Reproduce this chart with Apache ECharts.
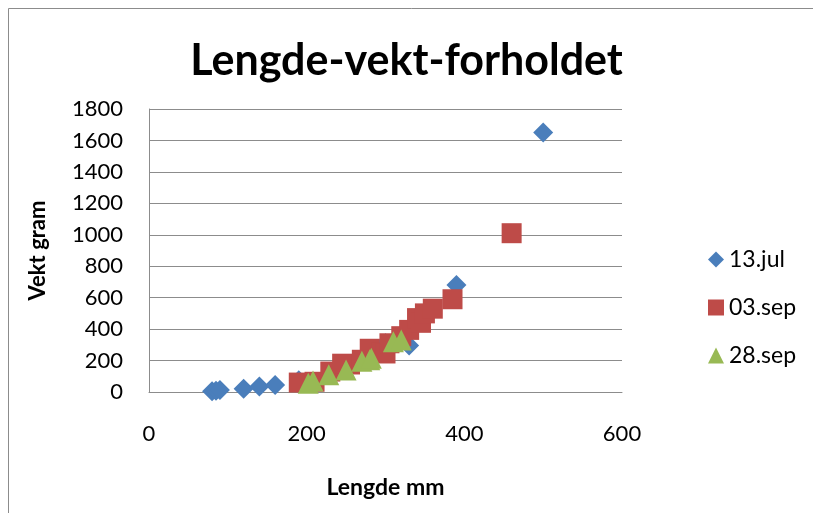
<!DOCTYPE html>
<html>
<head>
<meta charset="utf-8">
<script src="https://cdn.jsdelivr.net/npm/echarts@6/dist/echarts.min.js"></script>
<style>html,body{margin:0;padding:0;background:#fff;}#c{width:813px;height:513px;}</style>
</head>
<body>
<div id="c"></div>
<script>
const titleText = "Lengde-vekt-forholdet";
const xName = "Lengde mm";
const yName = "Vekt gram";
const seriesNames = ["13.jul", "03.sep", "28.sep"];
const jul13 = [[80,5],[85,8],[90,12],[120,20],[140,35],[160,45],[190,75],[300,310],[330,295],[390,680],[500,1650]];
const sep03 = [[190,60],[210,65],[230,130],[245,180],[255,175],[270,205],[280,275],[295,250],[300,245],[305,310],[320,355],[330,395],[340,470],[345,440],[350,500],[360,530],[385,590],[460,1010]];
const sep28 = [[202,55],[208,70],[228,110],[250,140],[270,195],[280,205],[282,215],[310,320],[320,330]];
const xTicks = {min:0, max:600, interval:200};
const yTicks = {min:0, max:1800, interval:200};

const FONT = "Lato, 'Open Sans', sans-serif";
const chart = echarts.init(document.getElementById('c'), null, {renderer:'canvas'});
chart.setOption({
  animation:false,
  backgroundColor:'#fff',
  graphic:[{type:'rect', shape:{x:8.5,y:8.5,width:900,height:600}, style:{fill:'none', stroke:'#8c8c8c', lineWidth:1}, silent:true, z:-1}],
  title:{text:titleText, left:'center', top:35, textStyle:{fontFamily:FONT, fontWeight:'bold', fontSize:43, color:'#000'}},
  grid:{left:149, right:191, top:109, bottom:121, containLabel:false},
  legend:{orient:'vertical', left:703, top:243, itemGap:25, itemWidth:16, itemHeight:16,
    textStyle:{fontFamily:FONT, fontSize:23, color:'#000'}, data:[
      {name:seriesNames[0], icon:'diamond'},{name:seriesNames[1], icon:'rect'},{name:seriesNames[2], icon:'triangle'}]},
  xAxis:{type:'value', min:xTicks.min, max:xTicks.max, interval:xTicks.interval,
    name:xName, nameLocation:'middle', nameGap:84, nameTextStyle:{fontFamily:FONT, fontWeight:'bold', fontSize:23, color:'#000'},
    axisLine:{show:true, lineStyle:{color:'#8c8c8c', width:1}}, axisTick:{show:false}, splitLine:{show:false},
    axisLabel:{fontFamily:FONT, fontSize:22, color:'#000', margin:31, formatter:v=>String(v)}},
  yAxis:{type:'value', min:yTicks.min, max:yTicks.max, interval:yTicks.interval,
    name:yName, nameLocation:'middle', nameGap:100, nameTextStyle:{fontFamily:FONT, fontWeight:'bold', fontSize:22, color:'#000'},
    axisLine:{show:true, lineStyle:{color:'#8c8c8c', width:1}}, axisTick:{show:false},
    splitLine:{show:true, lineStyle:{color:'#8c8c8c', width:1}},
    axisLabel:{fontFamily:FONT, fontSize:22, color:'#000', margin:26, formatter:v=>String(v)}},
  series:[
    {name:seriesNames[0], type:'scatter', symbol:'diamond', symbolSize:20, itemStyle:{color:'#4A7EBB', opacity:1}, data:jul13},
    {name:seriesNames[1], type:'scatter', symbol:'rect', symbolSize:20, itemStyle:{color:'#BE4B48', opacity:1}, data:sep03},
    {name:seriesNames[2], type:'scatter', symbol:'triangle', symbolSize:21, itemStyle:{color:'#98B954', opacity:1}, data:sep28}
  ]
});
</script>
</body>
</html>
